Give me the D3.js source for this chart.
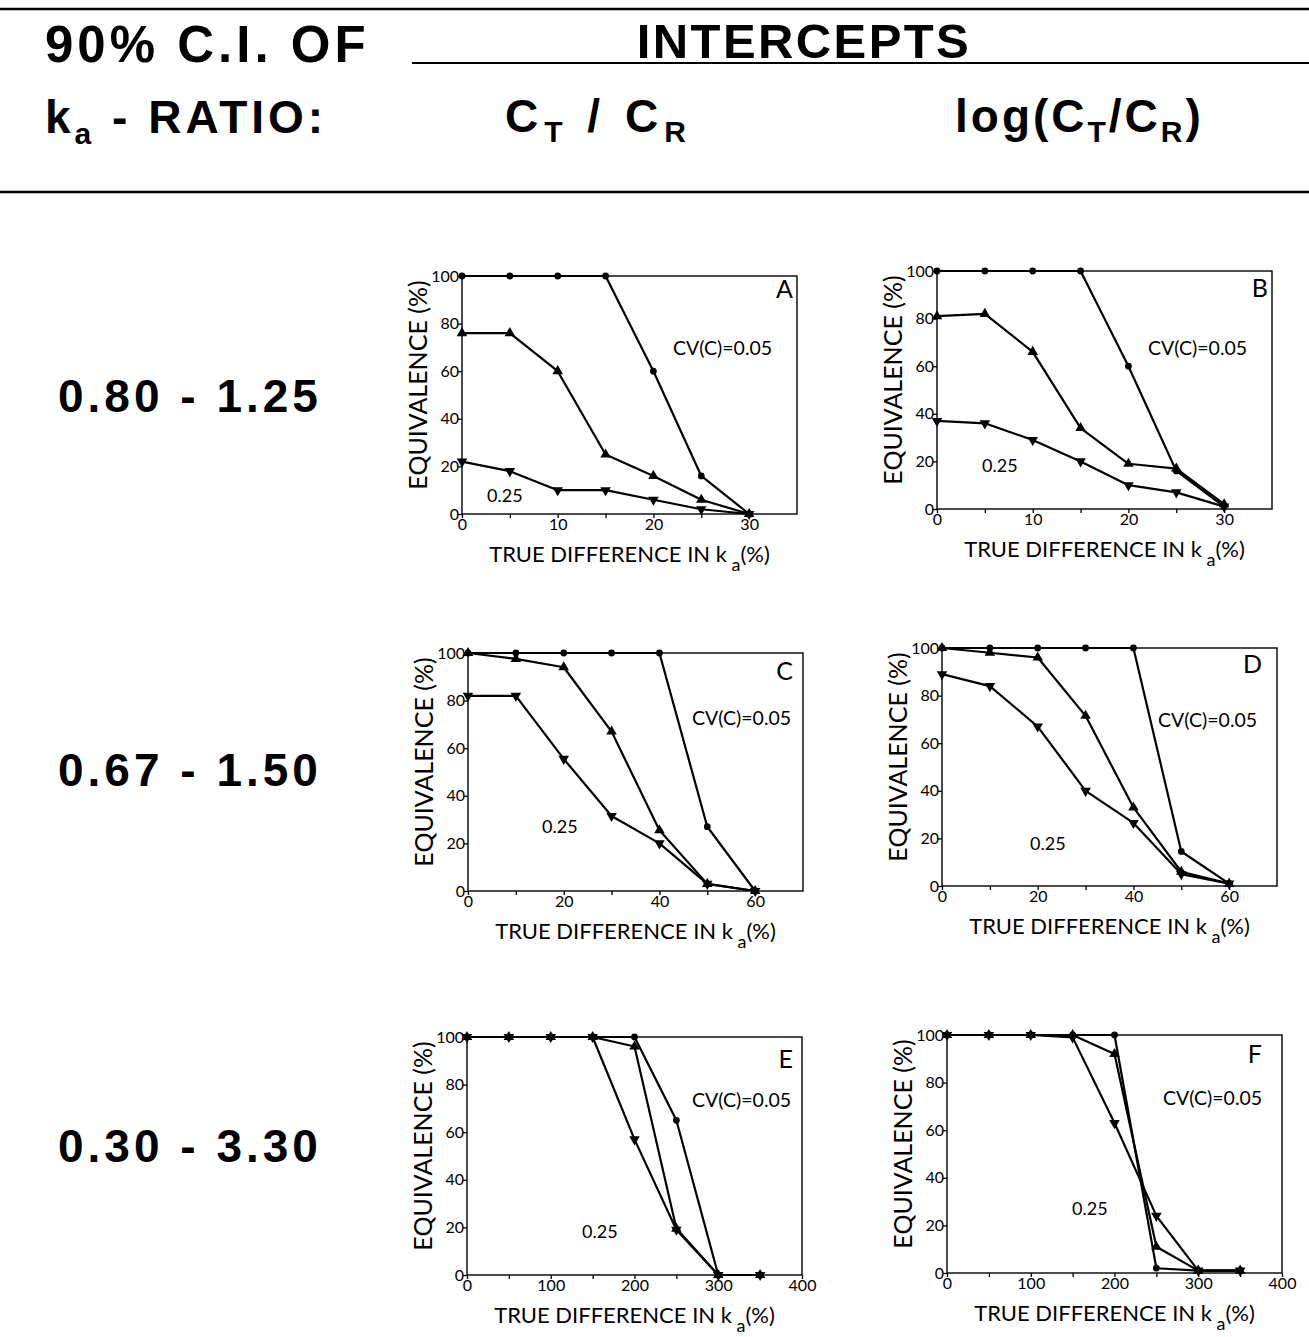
<!DOCTYPE html>
<html>
<head>
<meta charset="utf-8">
<script src="https://cdn.jsdelivr.net/npm/d3@7"></script>
<style>
  body { margin: 0; background: #fff; }
  svg { display: block; }
  .hdr { font-family: "Liberation Sans", Arial, sans-serif; font-weight: bold; fill: #000; }
  .pnl text { font-family: Lato, "Open Sans", sans-serif; fill: #000; }
  .frame { fill: none; stroke: #000; stroke-width: 1.4; }
  .curve { fill: none; stroke: #000; stroke-width: 2.2; stroke-linejoin: round; }
</style>
</head>
<body>
<svg id="chart"></svg>
<script>
// row labels (90% CI of ka ratio) and panel letters
var rowLabels = ["0.80 - 1.25", "0.67 - 1.50", "0.30 - 3.30"];
var panelNames = ["A", "B", "C", "D", "E", "F"];

// x values (true difference in ka, %)
var xRow1 = [0, 5, 10, 15, 20, 25, 30];
var xRow2 = [0, 10, 20, 30, 40, 50, 60];
var xRow3 = [0, 50, 100, 150, 200, 250, 300, 350];

// tick labels
var xTicks1 = [0, 10, 20, 30], xMinor1 = [5, 15, 25];
var xTicks2 = [0, 20, 40, 60], xMinor2 = [10, 30, 50];
var xTicks3 = [0, 100, 200, 300, 400], xMinor3 = [50, 150, 250, 350];
var yTicks = [0, 20, 40, 60, 80, 100];

// equivalence (%) -- s1 = CV(C) 0.05, s2 = middle CV, s3 = 0.25
var A_s1 = [100, 100, 100, 100, 60, 16, 0];
var A_s2 = [76, 76, 60, 25, 16, 6, 0];
var A_s3 = [22, 18, 10, 10, 6, 2, 0];

var B_s1 = [100, 100, 100, 100, 60, 16, 1];
var B_s2 = [81, 82, 66, 34, 19, 17, 2];
var B_s3 = [37, 36, 29, 20, 10, 7, 1];

var C_s1 = [100, 100, 100, 100, 100, 27, 0];
var C_s2 = [100, 97.5, 94, 67, 25.5, 3, 0];
var C_s3 = [82, 82, 55.5, 31.5, 20, 3, 0];

var D_s1 = [100, 100, 100, 100, 100, 14.5, 1];
var D_s2 = [100, 98, 96, 71.5, 33, 6, 1];
var D_s3 = [89, 84, 67, 40, 26.5, 5, 1];

var E_s1 = [100, 100, 100, 100, 100, 65, 0, 0];
var E_s2 = [100, 100, 100, 100, 96, 19.5, 0, 0];
var E_s3 = [100, 100, 100, 100, 57, 19, 0, 0];

var F_s1 = [100, 100, 100, 100, 100, 2, 1, 1];
var F_s2 = [100, 100, 100, 100, 92, 11, 1, 1];
var F_s3 = [100, 100, 100, 99, 63, 24, 1, 1];

var W = 1309, H = 1337;
var pw = 335, ph = 238;

var svg = d3.select("#chart").attr("width", W).attr("height", H);

// ---------- header ----------
var hdr = svg.append("g");
hdr.append("line").attr("x1", 0).attr("x2", W).attr("y1", 9).attr("y2", 9)
   .attr("stroke", "#000").attr("stroke-width", 2.5);
hdr.append("line").attr("x1", 412).attr("x2", W).attr("y1", 63).attr("y2", 63)
   .attr("stroke", "#000").attr("stroke-width", 2);
hdr.append("line").attr("x1", 0).attr("x2", W).attr("y1", 192).attr("y2", 192)
   .attr("stroke", "#000").attr("stroke-width", 2.5);

hdr.append("text").attr("class", "hdr").attr("x", 45).attr("y", 62)
   .style("font-size", "51px").style("letter-spacing", "4px").text("90% C.I. OF");
hdr.append("text").attr("class", "hdr").attr("x", 804).attr("y", 58)
   .attr("text-anchor", "middle")
   .style("font-size", "49px").style("letter-spacing", "2.4px").text("INTERCEPTS");

var r2 = hdr.append("text").attr("class", "hdr").attr("x", 45).attr("y", 133)
   .style("font-size", "46px").style("letter-spacing", "4px");
r2.append("tspan").text("k");
r2.append("tspan").attr("dy", 11).style("font-size", "30px").text("a");
r2.append("tspan").attr("dy", -11).text(" - RATIO:");

var r3 = hdr.append("text").attr("class", "hdr").attr("x", 505).attr("y", 132)
   .style("font-size", "46px").style("letter-spacing", "6px").attr("xml:space", "preserve");
r3.append("tspan").text("C");
r3.append("tspan").attr("dy", 10).style("font-size", "30px").text("T");
r3.append("tspan").attr("dy", -10).text(" / C");
r3.append("tspan").attr("dy", 10).style("font-size", "30px").text("R");

var r4 = hdr.append("text").attr("class", "hdr").attr("x", 955).attr("y", 132)
   .style("font-size", "46px").style("letter-spacing", "3px");
r4.append("tspan").text("log(C");
r4.append("tspan").attr("dy", 10).style("font-size", "30px").text("T");
r4.append("tspan").attr("dy", -10).text("/C");
r4.append("tspan").attr("dy", 10).style("font-size", "30px").text("R");
r4.append("tspan").attr("dy", -10).text(")");

// row labels
var rowBase = [412, 786, 1162];
svg.selectAll(".rowlab").data(rowLabels).enter().append("text")
   .attr("class", "hdr rowlab")
   .attr("x", 58).attr("y", function(d, i) { return rowBase[i]; })
   .style("font-size", "46px").style("letter-spacing", "4px")
   .text(function(d) { return d; });

// ---------- panels ----------
var panels = [
  {name: "A", xs: xRow1, series: [A_s1, A_s2, A_s3], xmax: 35, ticks: xTicks1, minor: xMinor1,
   left: 462, top: 276, cv: [211, 79], low: [25, 226], letter: [-4, 22]},
  {name: "B", xs: xRow1, series: [B_s1, B_s2, B_s3], xmax: 35, ticks: xTicks1, minor: xMinor1,
   left: 937, top: 271, cv: [211, 84], low: [45, 201], letter: [-4, 26]},
  {name: "C", xs: xRow2, series: [C_s1, C_s2, C_s3], xmax: 70, ticks: xTicks2, minor: xMinor2,
   left: 468, top: 653, cv: [224, 72], low: [74, 180], letter: [-10, 27]},
  {name: "D", xs: xRow2, series: [D_s1, D_s2, D_s3], xmax: 70, ticks: xTicks2, minor: xMinor2,
   left: 942, top: 648, cv: [216, 79], low: [88, 202], letter: [-15, 25]},
  {name: "E", xs: xRow3, series: [E_s1, E_s2, E_s3], xmax: 400, ticks: xTicks3, minor: xMinor3,
   left: 467, top: 1037, cv: [225, 70], low: [115, 201], letter: [-9, 31]},
  {name: "F", xs: xRow3, series: [F_s1, F_s2, F_s3], xmax: 400, ticks: xTicks3, minor: xMinor3,
   left: 947, top: 1035, cv: [216, 70], low: [125, 180], letter: [-20, 28]}
];

var markers = [
  d3.symbol().type(d3.symbolCircle).size(36),
  d3.symbol().type(d3.symbolTriangle).size(48),
  d3.symbol().type(d3.symbolTriangle).size(48)
];

panels.forEach(function(p) {
  var g = svg.append("g").attr("class", "pnl")
             .attr("transform", "translate(" + p.left + "," + p.top + ")");

  var x = d3.scaleLinear().domain([0, p.xmax]).range([0, pw]);
  var y = d3.scaleLinear().domain([0, 100]).range([ph, 0]);

  // axes
  var yAxis = d3.axisLeft(y).tickValues(yTicks).tickSize(4).tickPadding(-1);
  var ya = g.append("g").call(yAxis);
  ya.select(".domain").remove();
  ya.selectAll("line").attr("stroke-width", 1.3);

  var xAxis = d3.axisBottom(x).tickValues(p.ticks).tickSize(4).tickPadding(1);
  var xa = g.append("g").attr("transform", "translate(0," + ph + ")").call(xAxis);
  xa.select(".domain").remove();
  xa.selectAll("line").attr("stroke-width", 1.3);

  var xm = g.append("g").attr("transform", "translate(0," + ph + ")")
            .call(d3.axisBottom(x).tickValues(p.minor).tickSize(4).tickFormat(""));
  xm.select(".domain").remove();
  xm.selectAll("line").attr("stroke-width", 1.3);

  g.selectAll(".tick text").attr("fill", "#000").style("font-size", "16px");

  g.append("rect").attr("class", "frame").attr("width", pw).attr("height", ph);

  // lines
  var line = d3.line()
    .x(function(d) { return x(d[0]); })
    .y(function(d) { return y(d[1]); });

  p.series.forEach(function(vals, si) {
    var pts = p.xs.map(function(xv, i) { return [xv, vals[i]]; });
    g.append("path").attr("class", "curve").datum(pts).attr("d", line);
    g.selectAll(".m" + si).data(pts).enter().append("path")
      .attr("class", "m" + si)
      .attr("d", markers[si])
      .attr("fill", "#000")
      .attr("transform", function(d) {
        return "translate(" + x(d[0]) + "," + y(d[1]) + ")" + (si == 2 ? " rotate(180)" : "");
      });
  });

  // annotations
  g.append("text").attr("x", p.cv[0]).attr("y", p.cv[1])
   .style("font-size", "19.5px").text("CV(C)=0.05");
  g.append("text").attr("x", p.low[0]).attr("y", p.low[1])
   .style("font-size", "18px").text("0.25");
  g.append("text").attr("x", pw + p.letter[0]).attr("y", p.letter[1])
   .attr("text-anchor", "end").style("font-size", "25px").text(p.name);

  // axis titles
  g.append("text")
   .attr("transform", "translate(-35," + (ph / 2 - 10) + ") rotate(-90)")
   .attr("text-anchor", "middle")
   .style("font-size", "25px").text("EQUIVALENCE (%)");

  var xt = g.append("text").attr("x", pw / 2).attr("y", ph + 48)
   .attr("text-anchor", "middle").style("font-size", "22px");
  xt.append("tspan").text("TRUE DIFFERENCE IN k");
  xt.append("tspan").attr("dy", 9).style("font-size", "18px").text(" a");
  xt.append("tspan").attr("dy", -9).text("(%)");
});
</script>
</body>
</html>
